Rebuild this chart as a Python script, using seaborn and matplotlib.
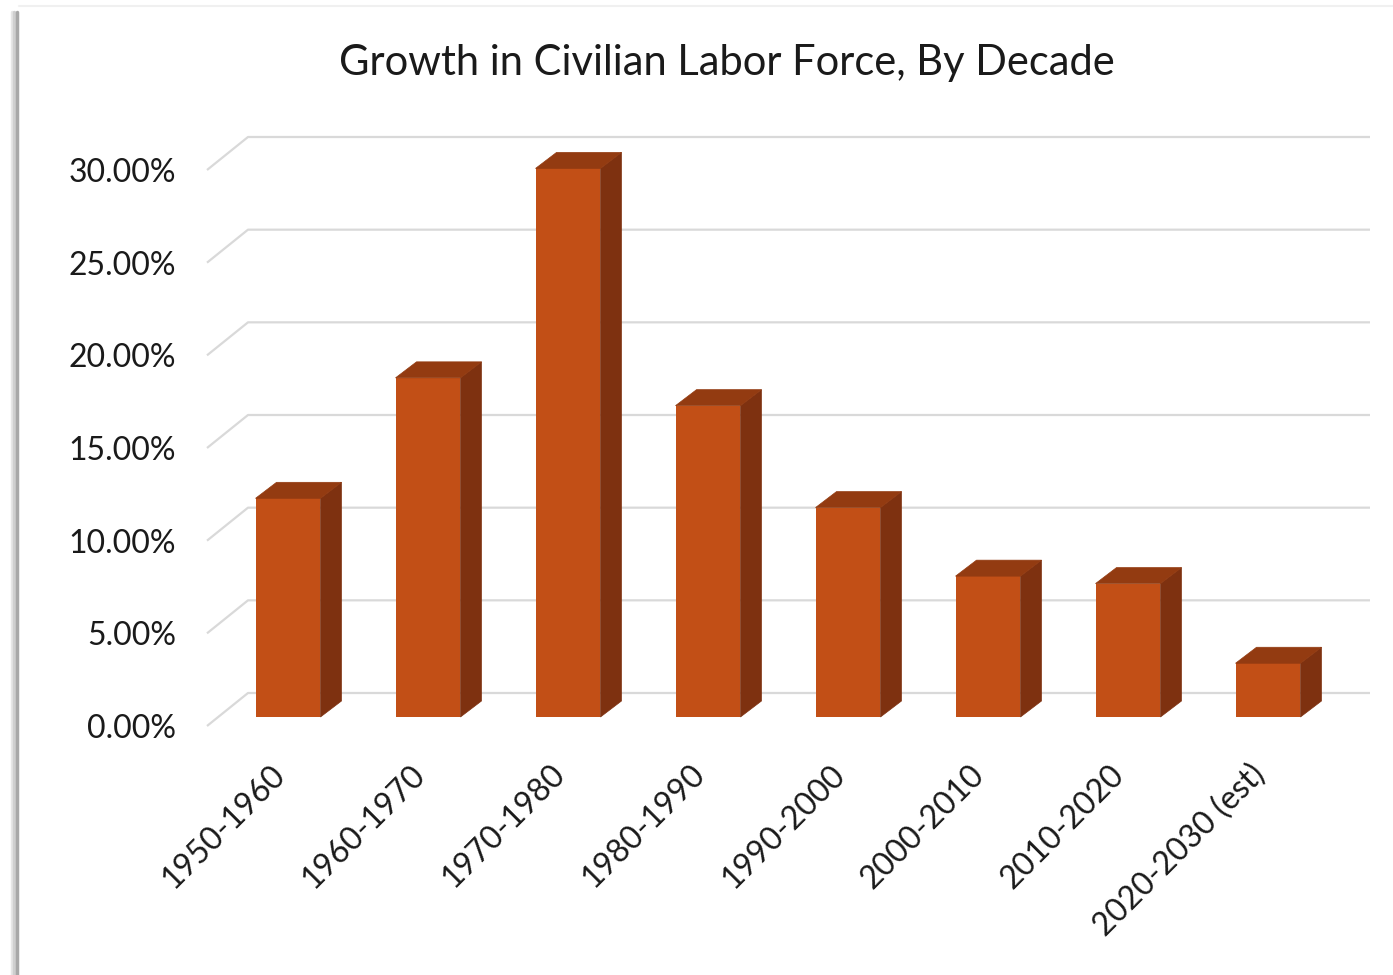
import matplotlib
matplotlib.use("Agg")
import numpy as np
import pandas as pd
import matplotlib.pyplot as plt
import seaborn as sns
from matplotlib.patches import Polygon
from matplotlib.lines import Line2D
from matplotlib.transforms import ScaledTranslation
from matplotlib.ticker import FuncFormatter

# ---- data ----
decades = ["1950-1960", "1960-1970", "1970-1980", "1980-1990",
           "1990-2000", "2000-2010", "2010-2020", "2020-2030 (est)"]
growth_pct = [11.8, 18.3, 29.6, 16.8, 11.3, 7.6, 7.2, 2.9]
y_ticks = [0, 5, 10, 15, 20, 25, 30]
title = "Growth in Civilian Labor Force, By Decade"

sns.set_theme(style="white")
plt.rcParams['font.family'] = ['Lato', 'DejaVu Sans']

FRONT = "#C24F16"
SIDE = "#7E3110"
TOP = "#933B11"
GRID = "#D9D9D9"
TXT = "#1a1a1a"

W, H = 1393, 975
fig = plt.figure(figsize=(W / 100, H / 100), dpi=100)
fig.patch.set_facecolor("white")

left_px, right_px = 207, 1370
y0_px, ytop_px = 717, 161
ax = fig.add_axes([left_px / W, 1 - y0_px / H,
                   (right_px - left_px) / W, (y0_px - ytop_px) / H])

df = pd.DataFrame({"decade": decades, "growth": growth_pct})
sns.barplot(data=df, x="decade", y="growth", color=FRONT, saturation=1,
            width=0.464, ax=ax, zorder=3, linewidth=0, edgecolor=FRONT)

step_px = 140.0
x_lo = -81 / step_px
x_hi = x_lo + (right_px - left_px) / step_px
ax.set_xlim(x_lo, x_hi)
ax.set_ylim(0, 30)
px_per_pct = (y0_px - ytop_px) / 30.0

# 3D faces of bars
ddx = 21 / step_px
ddy = 16 / px_per_pct
for p in list(ax.patches):
    x0, w, h = p.get_x(), p.get_width(), p.get_height()
    side = Polygon([(x0 + w, 0), (x0 + w + ddx, ddy), (x0 + w + ddx, h + ddy), (x0 + w, h)],
                   closed=True, facecolor=SIDE, edgecolor=SIDE, lw=0.5, zorder=3, clip_on=False)
    top = Polygon([(x0, h), (x0 + ddx, h + ddy), (x0 + w + ddx, h + ddy), (x0 + w, h)],
                  closed=True, facecolor=TOP, edgecolor=TOP, lw=0.5, zorder=3, clip_on=False)
    ax.add_patch(side)
    ax.add_patch(top)
    p.set_clip_on(False)

# gridlines: floor-side diagonal + back wall line
gdx = 41 / step_px
g_front = 9 / px_per_pct
g_back = 24 / px_per_pct
for v in y_ticks:
    ax.plot([x_lo, x_lo + gdx, x_hi], [v - g_front, v + g_back, v + g_back],
            color=GRID, lw=1.6, zorder=1, clip_on=False, solid_capstyle="butt")

# ticks
ax.set_yticks(y_ticks)
ax.yaxis.set_major_formatter(FuncFormatter(lambda v, _: f"{v:.2f}%"))
ax.tick_params(axis="y", length=0, pad=22.3, labelsize=23, labelcolor=TXT)
ax.tick_params(axis="x", length=0, pad=38, labelsize=23, labelcolor=TXT)
ax.set_xlabel("")
ax.set_ylabel("")
for lab in ax.get_yticklabels():
    lab.set_transform(lab.get_transform() + ScaledTranslation(0, -0.09, fig.dpi_scale_trans))
for lab in ax.get_xticklabels():
    lab.set_rotation(45)
    lab.set_ha("right")
    lab.set_va("center")
    lab.set_rotation_mode("anchor")
    lab.set_transform(lab.get_transform() + ScaledTranslation(-0.08, 0, fig.dpi_scale_trans))

for s in ax.spines.values():
    s.set_visible(False)
ax.grid(False)
ax.set_facecolor("white")

fig.text(727 / W, 1 - 63 / H, title, ha="center", va="center", fontsize=30, color=TXT)

# slide frame edge (soft shadow)
for xpx, col, lw in [(12, "#e6e6e6", 2.5), (14, "#cfcfcf", 2.5), (16.5, "#a8a8a8", 2.5)]:
    fig.add_artist(Line2D([xpx / W, xpx / W], [0, 1 - 12 / H], transform=fig.transFigure,
                          color=col, lw=lw))
fig.add_artist(Line2D([19 / W, 1], [1 - 6 / H, 1 - 6 / H], transform=fig.transFigure,
                      color="#f0f0f0", lw=1.5))

fig.savefig("out.png", dpi=100)
